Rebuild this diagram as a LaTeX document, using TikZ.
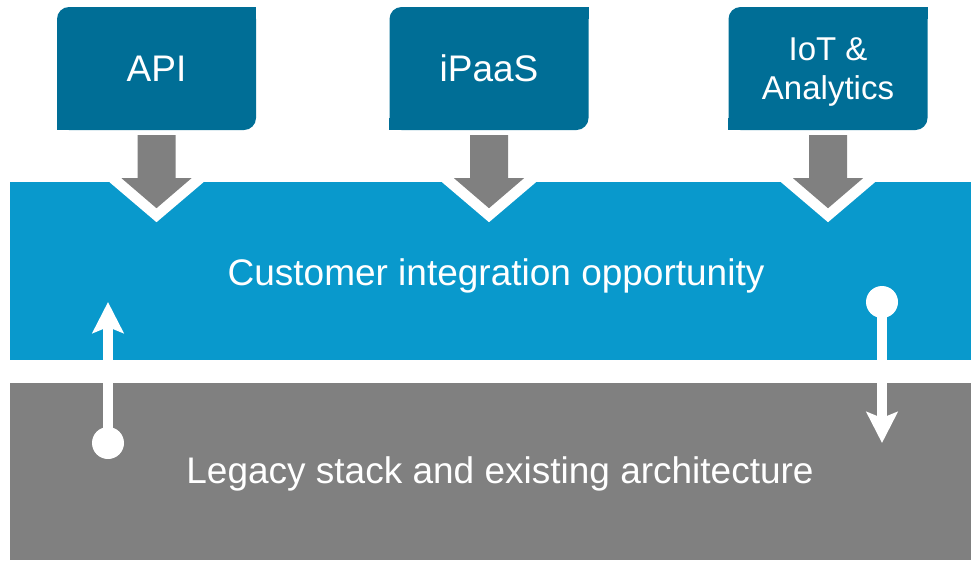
\documentclass[tikz,border=0pt]{standalone}
\usepackage{fontspec}
\setmainfont{Liberation Sans}
\usetikzlibrary{arrows.meta,calc}
\definecolor{boxteal}{RGB}{0,110,150}
\definecolor{bandblue}{RGB}{9,153,204}
\definecolor{stackgray}{RGB}{128,128,128}
\tikzset{
  topbox/.style={fill=boxteal, rounded corners=12pt, minimum width=199pt,
    minimum height=123pt, inner sep=0pt, text=white, align=center,
    font=\fontsize{37}{40}\selectfont},
  band/.style={fill=#1, minimum width=961pt, inner sep=0pt, anchor=north west},
  bandlabel/.style={text=white, font=\fontsize{37}{40}\selectfont, anchor=base, inner sep=0pt},
  dot/.style={circle, fill=white, minimum size=32pt, inner sep=0pt},
  flow/.style={draw=white, line width=10pt,
    -{Stealth[length=31pt,width=31pt,inset=6pt]}},
}
% fat grey arrow from a box down into the upper band, with a white notch
\newcommand\feedarrow[1]{%
  \fill[white] ($(#1.south)+(-47,52)$) -- ($(#1.south)+(47,52)$)
    -- ($(#1.south)+(0,92)$) -- cycle;
  \fill[stackgray] ($(#1.south)+(-19,5)$) -- ($(#1.south)+(19,5)$)
    -- ($(#1.south)+(19,48)$) -- ($(#1.south)+(35,48)$)
    -- ($(#1.south)+(0,78)$) -- ($(#1.south)+(-35,48)$)
    -- ($(#1.south)+(-19,48)$) -- cycle;
}
\begin{document}
\begin{tikzpicture}[x=1pt, y=-1pt]
  \useasboundingbox (0,0) rectangle (971,560);

  % the two layers
  \node[band=bandblue, minimum height=178pt] (upper) at (10,182) {};
  \node[band=stackgray, minimum height=177pt] (lower) at (10,383) {};

  % integration entry points
  \node[topbox] (api)   at (156.5,68.5) {API};
  \node[topbox] (ipaas) at (489,68.5)   {iPaaS};
  \node[topbox] (iot)   at (828,68.5)   {};
  \node[text=white, align=center, inner sep=0pt,
        font=\fontsize{33}{39}\selectfont] (iottext) at (828,72) {IoT \&\\Analytics};
  \foreach \b in {api,ipaas,iot} {
    \fill[boxteal] (\b.north east) rectangle ++(-12,12);
    \fill[boxteal] (\b.south west) rectangle ++(12,-12);
    \feedarrow{\b}
  }

  % layer captions
  \node[bandlabel] (upperlabel) at (496,285) {Customer integration opportunity};
  \node[bandlabel] (lowerlabel) at (500,483) {Legacy stack and existing architecture};

  % data flow between the layers
  \node[dot] (src1) at (108,443) {};
  \coordinate (dst1) at (108,302);
  \draw[flow] (src1.center) -- (dst1);

  \node[dot] (src2) at (882,302) {};
  \coordinate (dst2) at (882,443);
  \draw[flow] (src2.center) -- (dst2);
\end{tikzpicture}
\end{document}
